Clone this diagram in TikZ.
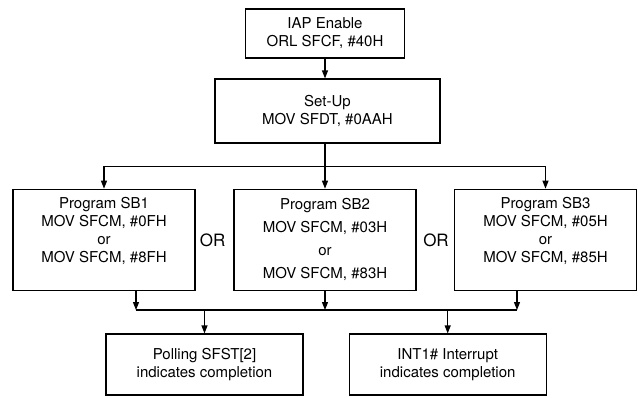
\documentclass[tikz,border=0pt]{standalone}
\usepackage{fontspec}
\setmainfont{TeX Gyre Heros}
\usetikzlibrary{arrows.meta}

\begin{document}
\begin{tikzpicture}[x=1pt,y=-1pt,
    box/.style={draw, line width=1.1pt, align=center, inner sep=0pt,
      font=\fontsize{15}{18}\selectfont},
    prog/.style={box, minimum width=182, minimum height=101},
    res/.style={box, minimum width=197, minimum height=61},
    ortext/.style={font=\fontsize{17}{20}\selectfont},
    arr/.style={line width=1.1pt, -{Triangle[length=8pt,width=6pt]}},
    line/.style={line width=1.1pt}]
    \useasboundingbox (0,0) rectangle (638,397);

% top of the flow
\node[box, minimum width=159, minimum height=49] (iap) at (325,33.5)
    {IAP Enable\\ORL SFCF, \#40H};
\node[box, minimum width=225, minimum height=64] (setup) at (327.5,111)
    {Set-Up\\MOV SFDT, \#0AAH};

% the three programs
\node[prog, text depth=20pt] (sb1) at (104,239.7)
    {Program SB1\\MOV SFCM, \#0FH\\or\\MOV SFCM, \#8FH};
\node[prog, font=\fontsize{15}{23}\selectfont] (sb2) at (325,239.7)
    {Program SB2\\MOV SFCM, \#03H\\or\\MOV SFCM, \#83H};
\node[prog, text depth=20pt] (sb3) at (545.5,239.7)
    {Program SB3\\MOV SFCM, \#05H\\or\\MOV SFCM, \#85H};
\node[ortext] (or1) at (212.7,240.5) {OR};
\node[ortext] (or2) at (436,240.5) {OR};

% the two ways to finish
\node[res] (poll) at (204.5,364.5) {Polling SFST[2]\\indicates completion};
\node[res] (int) at (447.7,364.5) {INT1\# Interrupt\\indicates completion};

\coordinate (split) at (325,166.7);
\coordinate (m1) at (136,310);
\coordinate (m3) at (517,310);

\draw[arr] (iap.south) -- (iap.south |- setup.north);
\draw[arr] (iap.south |- setup.south) -- (sb2.north);
\draw[arr] (split) -| (sb1.north);
\draw[arr] (split) -| (sb3.north);

\draw[arr] (m1 |- sb1.south) -- (m1);
\draw[arr] (sb2.south) -- (sb2.south |- m1);
\draw[arr] (m3 |- sb3.south) -- (m3);
\draw[line] (m1) -- (m3);
\draw[arr] (poll.north |- m1) -- (poll.north);
\draw[arr] (int.north |- m1) -- (int.north);

%\draw[gray!30, step=50] (0,0) grid (638,397);
\end{tikzpicture}
\end{document}
